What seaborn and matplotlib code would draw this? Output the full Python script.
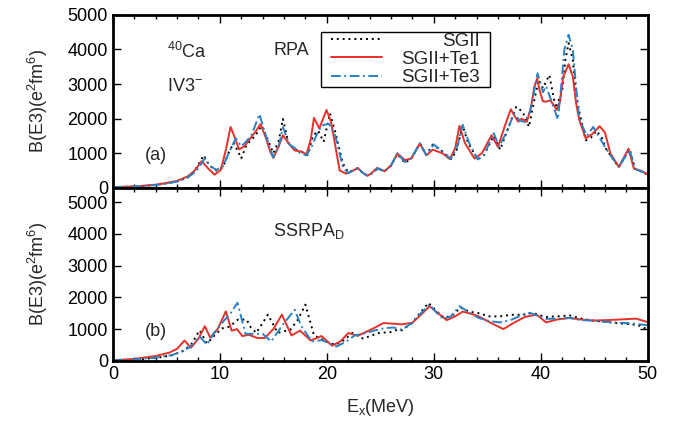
import matplotlib
matplotlib.use("Agg")
import matplotlib.pyplot as plt
from matplotlib.path import Path
from matplotlib.ticker import MultipleLocator
import pandas as pd
import seaborn as sns

# ---- (a) RPA strength, B(E3) in e^2 fm^6 vs excitation energy (MeV) ----
E_sg_rpa = [0, 2, 4, 5, 6, 7, 7.7, 8.5, 9.0, 9.7,
            10.3, 10.8, 11.3, 11.7, 12.0, 12.5, 13.0, 13.4, 13.9, 14.4,
            15.0, 15.5, 15.9, 16.4, 17.0, 17.6, 18.2, 18.7, 19.2, 19.7,
            20.3, 20.8, 21.5, 22.0, 22.9, 23.4, 23.8, 24.3, 24.7, 25.4,
            26.0, 26.6, 27.3, 27.9, 28.7, 29.3, 29.9, 30.8, 31.6, 32.1,
            32.7, 33.2, 34.1, 34.7, 35.6, 36.2, 36.8, 37.7, 38.3, 38.9,
            39.3, 39.8, 40.2, 40.8, 41.4, 42.0, 42.3, 42.6, 43.0, 43.3,
            43.6, 44.2, 44.7, 45.2, 45.7, 46.1, 46.6, 47.3, 48.3, 48.8,
            49.4, 50]
B_sg_rpa = [20, 35, 80, 130, 190, 300, 520, 940, 650, 500,
            600, 1000, 1300, 1050, 850, 1250, 1400, 1550, 1800, 1450,
            1000, 1350, 1990, 1300, 1100, 1050, 950, 1500, 1650, 1330,
            2150, 1600, 700, 450, 560, 420, 360, 430, 560, 480,
            640, 980, 720, 850, 1280, 950, 1250, 1050, 830, 1050,
            1800, 1300, 820, 950, 1500, 1100, 1600, 2340, 2200, 1760,
            2400, 3120, 2880, 3260, 2300, 2800, 3700, 4180, 3700, 2700,
            2200, 1370, 1450, 1650, 1450, 1130, 900, 600, 1130, 550,
            470, 380]

E_te1_rpa = [0, 2, 4, 5, 6, 7, 7.6, 8.3, 8.9, 9.5,
             10.1, 10.6, 11.0, 11.4, 11.8, 12.3, 12.9, 13.4, 13.8, 14.3,
             14.7, 15.0, 15.5, 15.9, 16.4, 17.0, 17.6, 18.1, 18.5, 18.8,
             19.3, 19.97, 20.4, 20.7, 21.2, 21.8, 22.3, 22.9, 23.3, 23.8,
             24.2, 24.7, 25.4, 26.0, 26.6, 27.3, 27.9, 28.7, 29.3, 29.9,
             30.8, 31.5, 32.0, 32.4, 32.9, 33.8, 34.5, 35.4, 36.0, 36.6,
             37.2, 37.6, 37.9, 38.2, 38.7, 39.1, 39.4, 39.66, 39.9, 40.2,
             40.5, 40.9, 41.5, 41.8, 42.1, 42.6, 43.0, 43.3, 43.6, 44.2,
             44.8, 45.5, 46.0, 46.5, 47.3, 48.2, 48.7, 49.3, 50]
B_te1_rpa = [20, 40, 90, 140, 200, 330, 480, 770, 560, 380,
             520, 1150, 1760, 1450, 1110, 1200, 1450, 1650, 1840, 1450,
             1050, 865, 1200, 1520, 1300, 1080, 1050, 970, 1400, 2020,
             1720, 2250, 1900, 1380, 500, 410, 470, 575, 450, 345,
             430, 575, 480, 650, 990, 800, 850, 1280, 940, 1100,
             1000, 830, 1150, 1790, 1300, 845, 1000, 1520, 1180, 1750,
             2270, 2050, 1910, 2000, 1910, 2340, 2920, 3160, 2800, 2500,
             2490, 2530, 2250, 2500, 3210, 3570, 3210, 2450, 1960, 1430,
             1550, 1780, 1600, 1000, 600, 1130, 560, 500, 390]

E_te3_rpa = [0, 2, 4, 5, 6, 7, 7.8, 8.6, 9.1, 9.7,
             10.3, 10.9, 11.5, 12.0, 12.5, 13.0, 13.7, 14.3, 15.0, 15.5,
             15.9, 16.5, 17.0, 17.5, 18.1, 18.6, 19.0, 19.5, 20.2, 20.8,
             21.5, 22.0, 22.9, 23.4, 23.8, 24.3, 24.8, 25.4, 26.0, 26.6,
             27.3, 27.9, 28.7, 29.3, 30.0, 30.8, 31.6, 32.2, 32.7, 33.3,
             34.1, 34.7, 35.6, 36.1, 36.8, 37.5, 38.0, 38.5, 39.0, 39.7,
             40.2, 40.5, 41.0, 41.6, 41.9, 42.2, 42.6, 43.0, 43.3, 43.6,
             44.3, 44.9, 45.4, 46.1, 46.6, 47.3, 48.3, 48.8, 49.4, 50]
B_te3_rpa = [20, 35, 80, 120, 180, 300, 480, 850, 620, 520,
             620, 1050, 1430, 1200, 1350, 1550, 2130, 1500, 880, 1200,
             1750, 1250, 1150, 1000, 940, 1200, 1500, 1800, 1850, 1500,
             600, 420, 580, 420, 350, 430, 560, 480, 640, 1000,
             740, 860, 1290, 950, 1250, 1050, 830, 1200, 1820, 1300,
             820, 950, 1580, 1200, 1600, 2150, 1950, 1900, 2200, 3310,
             2760, 2940, 2500, 1975, 2900, 3990, 4420, 3990, 2920, 2000,
             1500, 1760, 1500, 1130, 900, 600, 1100, 550, 470, 400]

# ---- (b) SSRPA_D strength ----
E_sg_ss = [0, 2, 4, 5.5, 6.5, 7.3, 8.1, 8.8, 9.5, 10.2,
           10.9, 11.7, 12.5, 12.9, 13.4, 14.5, 15.4, 16.6, 17.3, 18.0,
           18.8, 19.4, 20.0, 20.8, 21.6, 22.4, 23.4, 24.2, 24.9, 25.9,
           26.6, 27.0, 28.0, 28.7, 29.5, 30.3, 31.0, 31.8, 32.5, 33.3,
           34.2, 35.2, 36.2, 37.2, 38.3, 39.2, 40.5, 41.5, 42.7, 43.8,
           44.8, 46.0, 47.3, 48.5, 49.3, 50]
B_sg_ss = [15, 35, 90, 170, 300, 500, 960, 550, 800, 1020,
           1075, 1300, 1300, 1050, 880, 1455, 880, 980, 1300, 1770,
           800, 700, 600, 500, 650, 880, 700, 800, 880, 900,
           980, 960, 1200, 1500, 1825, 1550, 1350, 1450, 1680, 1550,
           1500, 1400, 1400, 1450, 1450, 1510, 1380, 1400, 1430, 1330,
           1270, 1230, 1180, 1150, 1100, 980]

E_te1_ss = [0, 2, 4, 5.3, 6.0, 6.7, 7.3, 8.0, 8.6, 9.1,
            9.8, 10.56, 11.1, 11.6, 12.1, 12.7, 13.5, 14.2, 15.0, 15.8,
            16.7, 17.5, 18.5, 19.5, 20.5, 21.3, 22.0, 22.9, 23.6, 24.4,
            25.3, 26.2, 27.0, 28.0, 28.8, 29.6, 30.4, 31.2, 32.0, 32.7,
            33.5, 34.2, 35.3, 36.5, 37.5, 38.5, 39.6, 40.5, 41.5, 42.7,
            43.8, 44.8, 46.0, 47.3, 48.9, 50]
B_te1_ss = [20, 60, 150, 260, 380, 640, 410, 700, 1090, 730,
            1000, 1560, 950, 1000, 780, 820, 720, 720, 1000, 1455,
            800, 950, 640, 780, 475, 620, 875, 790, 900, 1030,
            1190, 1170, 1150, 1200, 1450, 1720, 1500, 1280, 1400, 1550,
            1480, 1400, 1200, 1000, 1200, 1380, 1455, 1210, 1300, 1350,
            1300, 1270, 1280, 1300, 1330, 1220]

E_te3_ss = [0, 2, 4, 5.5, 6.5, 7.2, 8.1, 8.8, 9.5, 10.4,
            11.0, 11.65, 12.4, 13.2, 14.0, 14.8, 15.8, 17.0, 17.6, 18.6,
            19.5, 20.2, 20.9, 21.8, 22.6, 23.4, 24.4, 25.4, 26.2, 27.0,
            28.0, 28.8, 29.6, 30.3, 30.9, 31.6, 32.4, 33.2, 34.2, 35.2,
            36.2, 37.3, 38.3, 39.0, 40.0, 40.5, 41.5, 42.7, 43.8, 44.8,
            46.0, 47.3, 48.5, 50]
B_te3_ss = [15, 40, 100, 180, 300, 430, 770, 510, 900, 1270,
            1500, 1825, 850, 850, 850, 610, 1100, 1610, 1100, 610,
            650, 560, 450, 600, 800, 850, 950, 1030, 1050, 980,
            1200, 1500, 1770, 1500, 1320, 1400, 1720, 1550, 1350, 1250,
            1210, 1300, 1450, 1510, 1380, 1320, 1330, 1350, 1280, 1270,
            1230, 1200, 1180, 1120]

models = ["SGII", "SGII+Te1", "SGII+Te3"]
palette = {"SGII": "black", "SGII+Te1": "#e8302a", "SGII+Te3": "#2a80c0"}
dash_styles = {"SGII": (1.0, 2.0), "SGII+Te1": "", "SGII+Te3": (5.0, 1.8, 1.0, 1.8)}


def long_table(series):
    parts = [pd.DataFrame({"E": e, "B": b, "model": name}) for name, e, b in series]
    return pd.concat(parts, ignore_index=True)


def key_box(x0, y0, width, height, mutation_size):
    """Rectangular key frame padded sideways only."""
    pad = 0.55 * mutation_size
    x1, y1 = x0 + width + pad, y0 + height
    x0 = x0 - pad
    return Path([(x0, y0), (x1, y0), (x1, y1), (x0, y1), (x0, y0)],
                closed=True)


rpa = long_table([("SGII", E_sg_rpa, B_sg_rpa),
                  ("SGII+Te1", E_te1_rpa, B_te1_rpa),
                  ("SGII+Te3", E_te3_rpa, B_te3_rpa)])
ssrpa = long_table([("SGII", E_sg_ss, B_sg_ss),
                    ("SGII+Te1", E_te1_ss, B_te1_ss),
                    ("SGII+Te3", E_te3_ss, B_te3_ss)])

sns.set_theme(style="ticks")
plt.rcParams["font.family"] = ["Liberation Sans", "DejaVu Sans"]
plt.rcParams["mathtext.fontset"] = "custom"
plt.rcParams["mathtext.rm"] = "Liberation Sans"
plt.rcParams["mathtext.it"] = "Liberation Sans:italic"
plt.rcParams["mathtext.bf"] = "Liberation Sans:bold"
plt.rcParams["axes.edgecolor"] = "black"

FS = 13

fig = plt.figure(figsize=(6.84, 4.23), dpi=100)
ax_a = fig.add_axes([0.165, 0.556, 0.782, 0.409])
ax_b = fig.add_axes([0.165, 0.147, 0.782, 0.409], sharex=ax_a)

for ax, data in ((ax_a, rpa), (ax_b, ssrpa)):
    sns.lineplot(data=data, x="E", y="B", hue="model", style="model",
                 hue_order=models, style_order=models, palette=palette,
                 dashes=dash_styles, estimator=None, sort=False,
                 linewidth=1.4, legend=False, ax=ax,
                 solid_joinstyle="round", dash_joinstyle="round")
    ax.set_xlim(0, 50)
    ax.xaxis.set_major_locator(MultipleLocator(10))
    ax.xaxis.set_minor_locator(MultipleLocator(2))
    ax.yaxis.set_major_locator(MultipleLocator(1000))
    ax.tick_params(which="both", direction="in", top=True, right=True,
                   colors="black", labelsize=FS, width=1)
    ax.tick_params(which="major", length=6)
    ax.tick_params(which="minor", length=3)
    for sp in ax.spines.values():
        sp.set_linewidth(2)
        sp.set_color("black")
    ax.set_ylabel("B(E3)(e$^2$fm$^6$)", fontsize=FS, labelpad=13)

ax_a.set_ylim(0, 5000)
ax_b.set_ylim(0, 5450)
ax_a.set_xlabel("")
ax_a.tick_params(labelbottom=False)
ax_b.set_xlabel("E$_\\mathrm{x}$(MeV)", fontsize=FS, labelpad=10)

# panel labels
ax_a.text(5.1, 3930, "$^{40}$Ca", fontsize=FS, va="center")
ax_a.text(5.1, 2940, "IV3$^{-}$", fontsize=FS, va="center")
ax_a.text(15.0, 3960, "RPA", fontsize=FS, va="center")
ax_a.text(3.0, 940, "(a)", fontsize=FS, va="center")
ax_b.text(15.0, 4080, "SSRPA$_\\mathrm{D}$", fontsize=FS, va="center")
ax_b.text(3.0, 920, "(b)", fontsize=FS, va="center")

handles = ax_a.get_lines()[:3]
leg = ax_a.legend(handles, models, loc="upper left",
                  bbox_to_anchor=(0.408, 0.9), borderaxespad=0,
                  fontsize=13.5, frameon=True, fancybox=False,
                  edgecolor="black", framealpha=1, handlelength=2.7,
                  handletextpad=1.0, labelspacing=0.07, borderpad=0.02)
leg.get_frame().set_linewidth(1.0)
leg.get_frame().set_boxstyle(key_box)

# right-align the key labels
fig.canvas.draw()
renderer = fig.canvas.get_renderer()
texts = leg.get_texts()
widths = [t.get_window_extent(renderer).width for t in texts]
for t, w in zip(texts, widths):
    t.set_x(max(widths) - w)

fig.savefig("out.png", dpi=100)
